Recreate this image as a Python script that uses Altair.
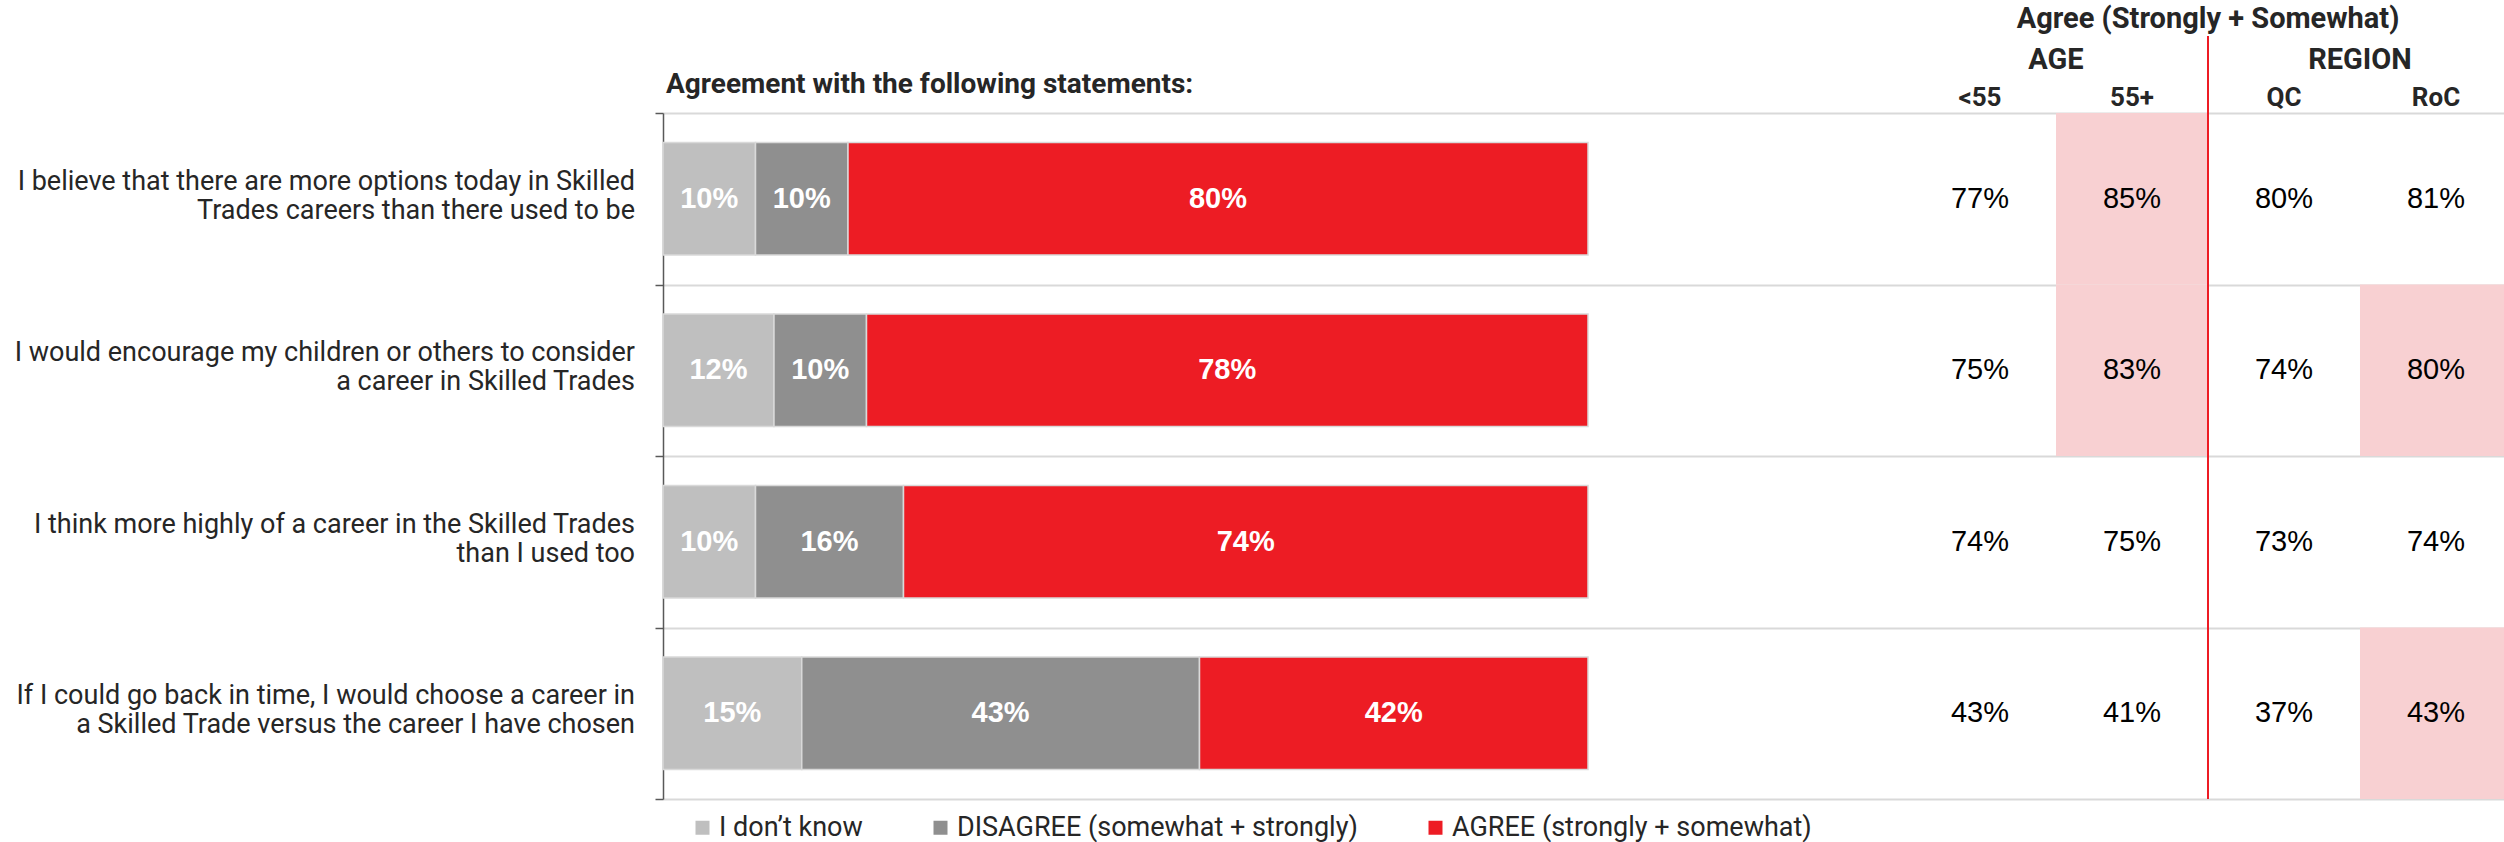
import altair as alt
import pandas as pd

# ---- data ----
statements = [
    "I believe that there are more options today in Skilled\nTrades careers than there used to be",
    "I would encourage my children or others to consider\na career in Skilled Trades",
    "I think more highly of a career in the Skilled Trades\nthan I used too",
    "If I could go back in time, I would choose a career in\na Skilled Trade versus the career I have chosen",
]
responses = ["I don\u2019t know", "DISAGREE (somewhat + strongly)", "AGREE (strongly + somewhat)"]
dont_know = [10, 12, 10, 15]
disagree = [10, 10, 16, 43]
agree = [80, 78, 74, 42]
response_colors = ["#BFBFBF", "#8F8F8F", "#ED1C24"]

table_columns = ["<55", "55+", "QC", "RoC"]
under_55 = [77, 75, 74, 43]
over_55 = [85, 83, 75, 41]
qc = [80, 74, 73, 37]
roc = [81, 80, 74, 43]
hl_under_55 = [False, False, False, False]
hl_over_55 = [True, True, False, False]
hl_qc = [False, False, False, False]
hl_roc = [False, True, False, True]

group_labels = ["AGE", "REGION"]
group_anchor = ["55+", "RoC"]          # group label sits at the start of this column
title_anchor = ["QC"]                  # overall header / divider at start of QC column
header_title = "Agree (Strongly + Somewhat)"
bar_title = "Agreement with the following statements:"

# ---- build tables ----
rows = []
for i, s in enumerate(statements):
    for j, (r, vals) in enumerate(zip(responses, [dont_know, disagree, agree])):
        rows.append({"statement": s, "response": r, "value": vals[i], "order": j})
bars_df = pd.DataFrame(rows)

trows = []
for c, vals, hls in zip(table_columns, [under_55, over_55, qc, roc],
                        [hl_under_55, hl_over_55, hl_qc, hl_roc]):
    for i, s in enumerate(statements):
        trows.append({"statement": s, "col": c, "value": vals[i], "hl": hls[i]})
table_df = pd.DataFrame(trows)

groups_df = pd.DataFrame({"text": group_labels, "col": group_anchor})
title_df = pd.DataFrame({"text": [header_title], "col": title_anchor})
labels_df = pd.DataFrame({"statement": statements})

W, H = 1841, 686
BAR_W = 925          # pixel length of a 100% bar
LABEL_FONT = "Roboto"
NUM_FONT = "Liberation Sans"

y_scale = alt.Scale(domain=statements, paddingInner=0, paddingOuter=0)
y_enc = alt.Y("statement:N", sort=statements, scale=y_scale,
              axis=alt.Axis(title=None, labels=False, domain=True, domainColor="#595959",
                            domainWidth=1.5, ticks=True, tickColor="#595959", tickSize=8,
                            tickWidth=1.5, grid=True, gridColor="#D9D9D9", gridWidth=2,
                            tickBand="extent"))
y_plain = alt.Y("statement:N", sort=statements, scale=y_scale)

xq_scale = alt.Scale(domain=[0, 100 * W / BAR_W], nice=False, zero=True)
xt_scale = alt.Scale(domain=table_columns, range=[1241, 1849], paddingInner=0, paddingOuter=0)

base_bars = alt.Chart(bars_df).transform_stack(
    stack="value", groupby=["statement"], as_=["x0", "x1"],
    sort=[alt.SortField("order", order="ascending")]
).transform_calculate(mid="(datum.x0 + datum.x1) / 2", label="datum.value + '%'")

bars = base_bars.mark_bar(height={"band": 0.655}, stroke="#D9D9D9", strokeWidth=1.5).encode(
    x=alt.X("x0:Q", scale=xq_scale, axis=None),
    x2="x1:Q",
    y=y_enc,
    color=alt.Color("response:N", scale=alt.Scale(domain=responses, range=response_colors),
                    legend=alt.Legend(title=None, orient="none", legendX=26, legendY=701,
                                      direction="horizontal", symbolType="square",
                                      symbolSize=196, symbolStrokeWidth=0,
                                      labelFont=LABEL_FONT, labelFontSize=27,
                                      labelColor="#262626", labelOffset=3,
                                      columnPadding=64, labelLimit=0)),
)
bar_text = base_bars.mark_text(font=NUM_FONT, fontSize=29, fontWeight="bold",
                               color="white").encode(
    x=alt.X("mid:Q", scale=xq_scale),
    y=y_plain,
    text="label:N",
)
stmt_text = alt.Chart(labels_df).mark_text(
    align="right", baseline="middle", lineBreak="\n", lineHeight=29, dy=-17,
    font=LABEL_FONT, fontSize=27, color="#262626").encode(
    x=alt.value(-28), y=y_plain, text="statement:N")
bar_title_text = alt.Chart(pd.DataFrame({"t": [bar_title]})).mark_text(
    align="left", baseline="alphabetic", font=LABEL_FONT, fontSize=28,
    fontWeight="bold", color="#262626").encode(
    x=alt.value(3), y=alt.value(-20), text="t:N")

left = alt.layer(bars, bar_text, stmt_text, bar_title_text)

pink = alt.Chart(table_df).transform_filter("datum.hl").mark_rect(
    color="#F8D0D2", clip=True).encode(
    x=alt.X("col:N", scale=xt_scale,
            axis=alt.Axis(orient="top", title=None, domain=False, ticks=False, tickSize=0,
                          labelPadding=3, labelAngle=0, labelFont=LABEL_FONT,
                          labelFontSize=26, labelFontWeight="bold", labelColor="#262626",
                          grid=False)),
    y=y_plain,
)
table_text = alt.Chart(table_df).transform_calculate(
    label="datum.value + '%'").mark_text(
    font=NUM_FONT, fontSize=29, color="black").encode(
    x=alt.X("col:N", scale=xt_scale),
    y=y_plain,
    text="label:N",
)
group_text = alt.Chart(groups_df).mark_text(
    baseline="alphabetic", font=LABEL_FONT, fontSize=29, fontWeight="bold",
    color="#262626").encode(
    x=alt.X("col:N", scale=xt_scale, bandPosition=0),
    y=alt.value(-44), text="text:N")
header_text = alt.Chart(title_df).mark_text(
    baseline="alphabetic", font=LABEL_FONT, fontSize=29, fontWeight="bold",
    color="#262626").encode(
    x=alt.X("col:N", scale=xt_scale, bandPosition=0),
    y=alt.value(-85), text="text:N")
divider = alt.Chart(title_df).mark_rule(color="#ED1C24", strokeWidth=2).encode(
    x=alt.X("col:N", scale=xt_scale, bandPosition=0),
    y=alt.value(-77), y2=alt.value(H))

right = alt.layer(pink, table_text, group_text, header_text, divider)

chart = alt.layer(left, right).resolve_scale(x="independent").properties(
    width=W, height=H,
    autosize=alt.AutoSizeParams(type="none"),
    padding={"left": 663, "top": 113, "right": 0, "bottom": 43},
    background="white",
).configure_view(stroke=None)

chart.save("out.html", embed_options={"renderer": "svg", "actions": False})
